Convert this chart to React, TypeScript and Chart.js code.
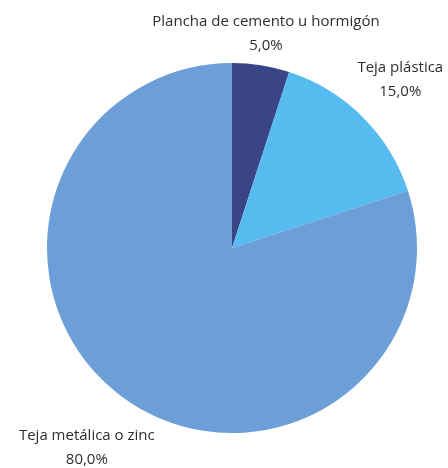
import React, { useEffect, useRef } from "react";
import { Chart, registerables } from "chart.js";

Chart.register(...registerables);

const categories = ["Plancha de cemento u hormigón", "Teja plástica", "Teja metálica o zinc"];
const values = [5.0, 15.0, 80.0];
const colors = ["#3a4585", "#56bcef", "#6c9fd8"];

const outsideLabels = {
  id: "outsideLabels",
  afterDraw(chart: any, _args: any, opts: any) {
    const ctx = chart.ctx;
    const meta = chart.getDatasetMeta(0);
    const data = chart.data.datasets[0].data as number[];
    const total = data.reduce((a, b) => a + b, 0);
    ctx.save();
    ctx.fillStyle = "#2e2e2e";
    ctx.font = "15px 'Open Sans'";
    ctx.textAlign = "center";
    ctx.textBaseline = "middle";
    meta.data.forEach((arc: any, i: number) => {
      const p = arc.getProps(["x", "y", "startAngle", "endAngle", "outerRadius"], true);
      const mid = (p.startAngle + p.endAngle) / 2;
      const d = p.outerRadius + opts.offsets[i];
      const cx = p.x + Math.cos(mid) * d;
      const cy = p.y + Math.sin(mid) * d;
      const pct = ((data[i] / total) * 100).toFixed(1).replace(".", ",") + "%";
      ctx.fillText(chart.data.labels[i], cx, cy - 12);
      ctx.fillText(pct, cx, cy + 12);
    });
    ctx.restore();
  },
};

export default function App() {
  const ref = useRef<HTMLCanvasElement>(null);
  useEffect(() => {
    document.body.style.margin = "0";
    const chart = new Chart(ref.current!, {
      type: "pie",
      data: {
        labels: categories,
        datasets: [{ data: values, backgroundColor: colors, borderWidth: 0 }],
      },
      options: {
        responsive: false,
        animation: false,
        layout: { padding: { left: 47, right: 31, top: 63, bottom: 35 } },
        plugins: {
          legend: { display: false },
          tooltip: { enabled: false },
          outsideLabels: { offsets: [32, 53, 62] },
        } as any,
      },
      plugins: [outsideLabels],
    });
    return () => chart.destroy();
  }, []);
  return <canvas ref={ref} width={448} height={468} style={{ display: "block" }} />;
}
